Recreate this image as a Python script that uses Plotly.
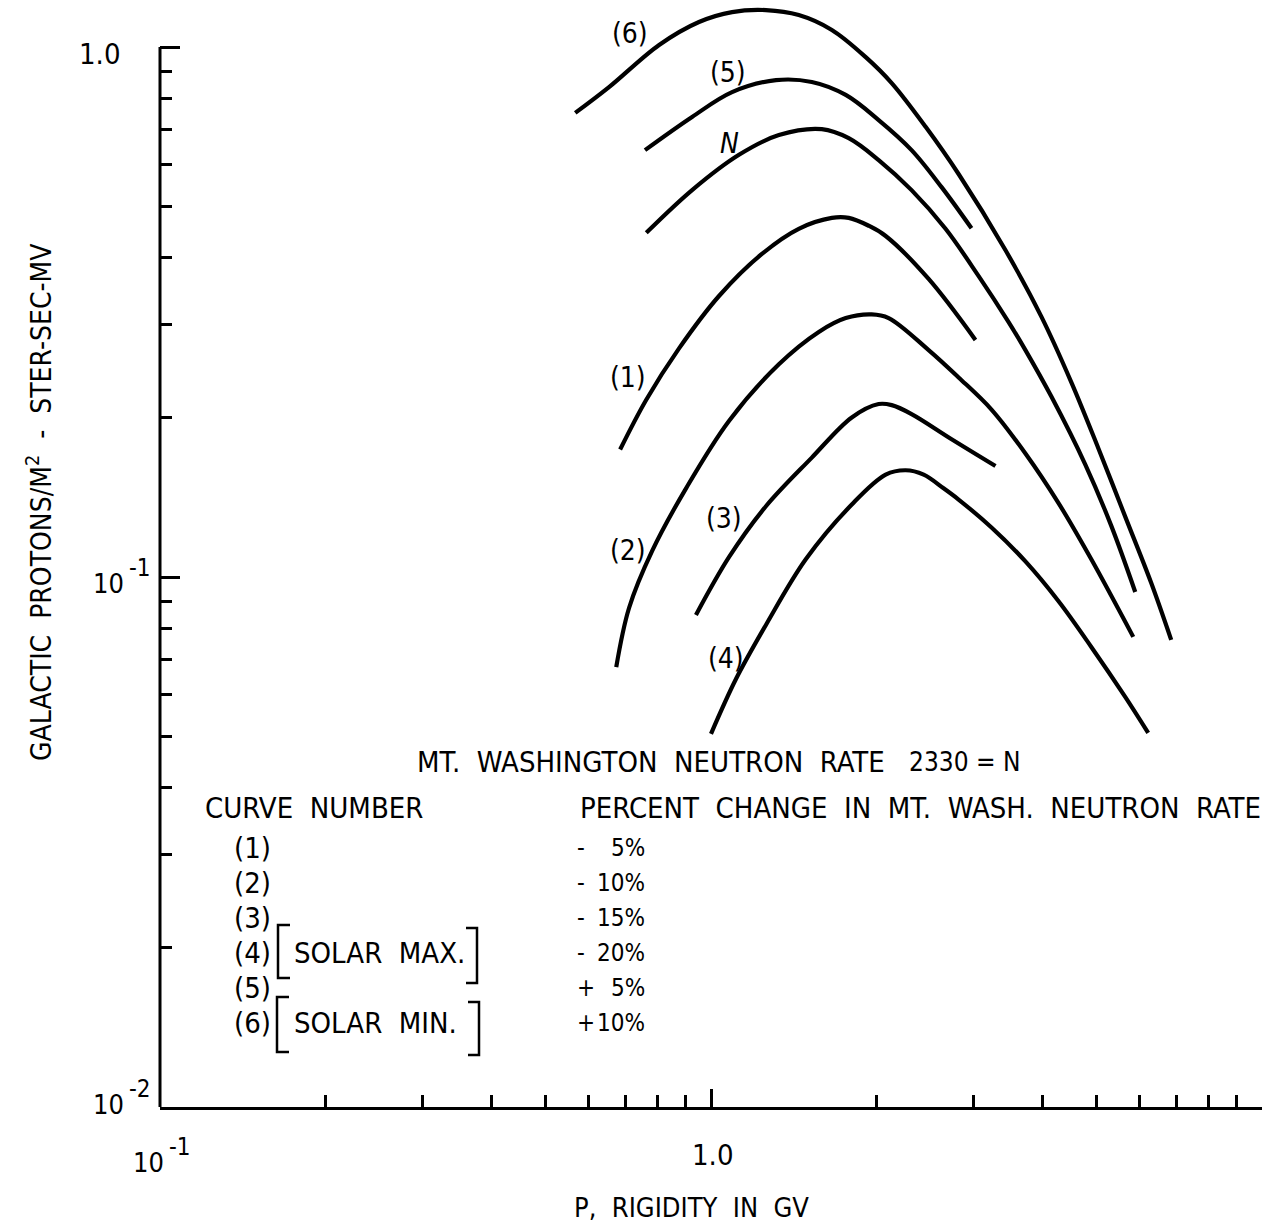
import math
import plotly.graph_objects as go

# ---------------------------------------------------------------------------
# Galactic proton differential spectra vs. rigidity for several levels of the
# Mt. Washington neutron monitor rate.
# ---------------------------------------------------------------------------

# rigidity P (GV) and flux (protons / m^2-ster-sec-MV) for each curve
curve6_p = [0.567, 0.653, 0.805, 0.951, 1.092, 1.258, 1.443, 1.657, 1.909, 2.128,
            2.452, 2.814, 3.422, 3.977, 4.508, 5.046, 5.646, 6.295, 6.842]
curve6_f = [0.751, 0.840, 1.009, 1.115, 1.164, 1.174, 1.149, 1.077, 0.957, 0.855,
            0.707, 0.576, 0.414, 0.310, 0.233, 0.175, 0.130, 0.0974, 0.0761]

curve5_p = [0.759, 0.924, 1.092, 1.312, 1.524, 1.756, 2.015, 2.312, 2.621, 2.970]
curve5_f = [0.639, 0.738, 0.822, 0.866, 0.859, 0.812, 0.728, 0.639, 0.544, 0.455]

curveN_p = [0.763, 0.924, 1.124, 1.328, 1.589, 1.778, 2.015, 2.312, 2.665, 3.058,
            3.466, 3.721, 4.147, 4.779, 5.325, 5.888]
curveN_f = [0.446, 0.537, 0.626, 0.682, 0.700, 0.673, 0.612, 0.537, 0.454, 0.370,
            0.303, 0.268, 0.219, 0.163, 0.125, 0.0937]

curve1_p = [0.684, 0.763, 0.875, 1.034, 1.237, 1.443, 1.657, 1.778, 1.933, 2.075,
            2.483, 3.020]
curve1_f = [0.174, 0.216, 0.270, 0.339, 0.407, 0.454, 0.476, 0.476, 0.460, 0.440,
            0.365, 0.280]

curve2_p = [0.673, 0.710, 0.782, 0.901, 1.078, 1.328, 1.569, 1.756, 1.957, 2.101,
            2.483, 2.814, 3.229, 3.721, 4.270, 4.900, 5.839]
curve2_f = [0.0676, 0.0874, 0.112, 0.147, 0.197, 0.252, 0.290, 0.308, 0.313, 0.308,
            0.268, 0.238, 0.207, 0.171, 0.138, 0.108, 0.0771]

curve3_p = [0.939, 1.078, 1.258, 1.524, 1.801, 2.015, 2.128, 2.312, 2.733, 3.283]
curve3_f = [0.0848, 0.109, 0.136, 0.168, 0.200, 0.212, 0.211, 0.203, 0.182, 0.162]

curve4_p = [1.0, 1.110, 1.258, 1.486, 1.801, 2.075, 2.256, 2.432, 2.643, 2.814,
            3.229, 3.721, 4.270, 4.900, 5.646, 6.215]
curve4_f = [0.0506, 0.0642, 0.0812, 0.108, 0.137, 0.156, 0.159, 0.156, 0.147, 0.140,
            0.124, 0.107, 0.0901, 0.0738, 0.0594, 0.0508]

curves = [
    (curve6_p, curve6_f), (curve5_p, curve5_f), (curveN_p, curveN_f),
    (curve1_p, curve1_f), (curve2_p, curve2_f), (curve3_p, curve3_f),
    (curve4_p, curve4_f),
]

# axis ticks
x_major = [1.0, 10.0]
x_minor = [0.2, 0.3, 0.4, 0.5, 0.6, 0.7, 0.8, 0.9, 2, 3, 4, 5, 6, 7, 8, 9]
y_major = [0.01, 0.1, 1.0]
y_minor = [0.02, 0.03, 0.04, 0.05, 0.06, 0.07, 0.08, 0.09,
           0.2, 0.3, 0.4, 0.5, 0.6, 0.7, 0.8, 0.9]

# legend table
curve_numbers = ["(1)", "(2)", "(3)", "(4)", "(5)", "(6)"]
percent_signs = ["-", "-", "-", "-", "+", "+"]
percent_values = ["5%", "10%", "15%", "20%", "5%", "10%"]

# ---------------------------------------------------------------------------
W, H = 1276, 1223
ML, MR, MT, MB = 160, 14, 0, 116
PW, PH = W - ML - MR, H - MT - MB
X_RANGE = [-1.0, 1.0]
Y_RANGE = [-2.0, 0.0887]

FONT = "DejaVu Sans Condensed"
INK = "black"


def fx(px):
    """page pixel column -> paper x"""
    return (px - ML) / PW


def fy(py):
    """page pixel row -> paper y"""
    return (MT + PH - py) / PH


def dy(v):
    """data y -> paper y"""
    return (math.log10(v) - Y_RANGE[0]) / (Y_RANGE[1] - Y_RANGE[0])


fig = go.Figure()
for p, f in curves:
    fig.add_trace(go.Scatter(
        x=p, y=f, mode="lines",
        line=dict(color=INK, width=4.2, shape="spline", smoothing=1.0),
        hoverinfo="skip", showlegend=False,
    ))

fig.update_xaxes(
    type="log", range=X_RANGE, showgrid=False, zeroline=False,
    showline=True, linecolor=INK, linewidth=3,
    ticks="inside", tickvals=x_major, ticklen=18, tickwidth=3, tickcolor=INK,
    showticklabels=False,
    minor=dict(ticks="inside", tickvals=x_minor, ticklen=12, tickwidth=3,
               tickcolor=INK, showgrid=False),
)
fig.update_yaxes(
    type="log", range=Y_RANGE, showgrid=False, zeroline=False, showline=False,
    ticks="inside", tickvals=y_major, ticklen=20, tickwidth=3, tickcolor=INK,
    showticklabels=False,
    minor=dict(ticks="inside", tickvals=y_minor, ticklen=12, tickwidth=3,
               tickcolor=INK, showgrid=False),
)

shapes = [
    # vertical axis, drawn from 10^-2 up to 1.0
    dict(type="line", xref="paper", yref="paper", x0=0, x1=0,
         y0=0, y1=dy(1.0), line=dict(color=INK, width=3)),
]


def bracket(x0, x1, y0, y1, left=True):
    if left:
        path = f"M {fx(x1)} {fy(y0)} L {fx(x0)} {fy(y0)} L {fx(x0)} {fy(y1)} L {fx(x1)} {fy(y1)}"
    else:
        path = f"M {fx(x0)} {fy(y0)} L {fx(x1)} {fy(y0)} L {fx(x1)} {fy(y1)} L {fx(x0)} {fy(y1)}"
    return dict(type="path", xref="paper", yref="paper", path=path,
                line=dict(color=INK, width=2.5))


shapes += [
    bracket(278, 290, 925, 978, left=True),
    bracket(466, 477, 928, 983, left=False),
    bracket(277, 289, 997, 1052, left=True),
    bracket(468, 479, 1002, 1055, left=False),
]

ann = []


def text(s, px, py, size=29, xanchor="left", angle=0):
    ann.append(dict(text=s, x=fx(px), y=fy(py), xref="paper", yref="paper",
                    xanchor=xanchor, yanchor="middle", showarrow=False,
                    textangle=angle,
                    font=dict(family=FONT, size=size, color=INK)))


def power_label(exp, right_px, py):
    """'10' with a raised exponent, right edge of the exponent at right_px"""
    text(exp, right_px, py - 15, size=24, xanchor="right")
    text("10", right_px - 27, py, size=27, xanchor="right")


# tick labels
text("1.0", 122, 54, size=29, xanchor="right")
power_label("-1", 153, 583)
power_label("-2", 153, 1104)
power_label("-1", 193, 1162)
text("1.0", 712, 1155, size=29, xanchor="center")

# axis titles
text("P,  RIGIDITY  IN  GV", 691, 1207, size=27, xanchor="center")
text("GALACTIC  PROTONS/M<sup>2</sup>  -  STER-SEC-MV", 40, 502, size=28,
     xanchor="center", angle=-90)

# curve labels
text("(6)", 630, 33, size=28, xanchor="center")
text("(5)", 728, 72, size=28, xanchor="center")
text("<i>N</i>", 729, 143, size=28, xanchor="center")
text("(1)", 628, 378, size=28, xanchor="center")
text("(2)", 628, 550, size=28, xanchor="center")
text("(3)", 724, 518, size=28, xanchor="center")
text("(4)", 726, 658, size=28, xanchor="center")

# table
text("MT.  WASHINGTON  NEUTRON  RATE", 415, 762)
text("2330 = N", 1022, 762, size=26, xanchor="right")
text("CURVE  NUMBER", 203, 808)
text("PERCENT  CHANGE  IN  MT.  WASH.  NEUTRON  RATE", 578, 808)
rows_y = [848, 883, 918, 953, 988, 1023]
for num, sign, val, ry in zip(curve_numbers, percent_signs, percent_values, rows_y):
    text(num, 232, ry)
    text(sign, 575, ry, size=24)
    text(val, 647, ry, size=24, xanchor="right")
text("SOLAR  MAX.", 292, 953)
text("SOLAR  MIN.", 292, 1023)

fig.update_layout(
    width=W, height=H, autosize=False,
    margin=dict(l=ML, r=MR, t=MT, b=MB, pad=0),
    paper_bgcolor="white", plot_bgcolor="white",
    shapes=shapes, annotations=ann, showlegend=False,
    font=dict(family=FONT, color=INK),
)

fig.write_html("out.html")
